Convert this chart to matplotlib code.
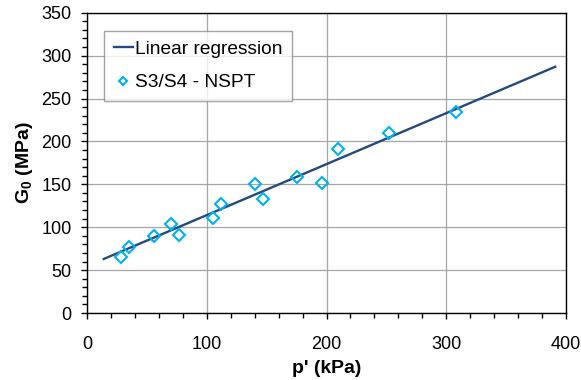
import matplotlib
matplotlib.use("Agg")
import matplotlib.pyplot as plt
from matplotlib.ticker import MultipleLocator

plt.rcParams['font.family'] = ['Liberation Sans', 'DejaVu Sans']
plt.rcParams['mathtext.fontset'] = 'custom'
plt.rcParams['mathtext.rm'] = 'Liberation Sans'
plt.rcParams['mathtext.bf'] = 'Liberation Sans:bold'

# Data
p_kpa = [28, 35, 56, 70, 77, 105, 112, 140, 147, 175, 196, 210, 252, 308]
g0_mpa = [65, 77, 90, 104, 91, 111, 127, 150, 133, 159, 151, 191, 210, 234]

# Linear regression line end points
reg_x = [14, 391]
reg_y = [63, 287]

x_ticks = [0, 100, 200, 300, 400]
y_ticks = [0, 50, 100, 150, 200, 250, 300, 350]

fig = plt.figure(figsize=(5.81, 3.80), dpi=100)
ax = fig.add_axes([87/581, 1-313/380, (566-87)/581, (313-12.7)/380])

ax.plot(reg_x, reg_y, color='#244a7c', lw=1.7, label='Linear regression', zorder=3)
ax.plot(p_kpa, g0_mpa, linestyle='none', marker='D', ms=6.5, mfc='none',
        mec='#00b0f0', mew=1.5, label='S3/S4 - NSPT', zorder=4)

ax.set_xlim(0, 400)
ax.set_ylim(0, 350)
ax.set_xticks(x_ticks)
ax.set_yticks(y_ticks)
ax.xaxis.set_minor_locator(MultipleLocator(20))
ax.yaxis.set_minor_locator(MultipleLocator(10))
ax.grid(True, which='major', color='#a6a6a6', lw=0.9)
ax.set_axisbelow(True)
for s in ax.spines.values():
    s.set_color('black')
    s.set_linewidth(1.0)
ax.tick_params(axis='both', which='major', length=4, width=1, labelsize=13, color='black')
ax.tick_params(axis='both', which='minor', length=3.5, width=1, color='black')
ax.tick_params(axis='x', which='major', pad=12.5)
ax.tick_params(axis='y', which='major', pad=7)

ax.set_xlabel("p' (kPa)", fontsize=14, fontweight='bold', labelpad=5)
ax.set_ylabel(r'$\mathbf{G_0}$ (MPa)', fontsize=14, fontweight='bold', labelpad=5)

leg = ax.legend(loc='upper left', bbox_to_anchor=(17/479, 1-18/300), borderaxespad=0,
                fontsize=13.8, frameon=True, fancybox=False, edgecolor='#8c8c8c',
                handlelength=1.0, handletextpad=0.1, labelspacing=0.85,
                borderpad=0.5, markerscale=0.65)
leg.get_frame().set_linewidth(1.0)

fig.savefig('out.png', dpi=100)
